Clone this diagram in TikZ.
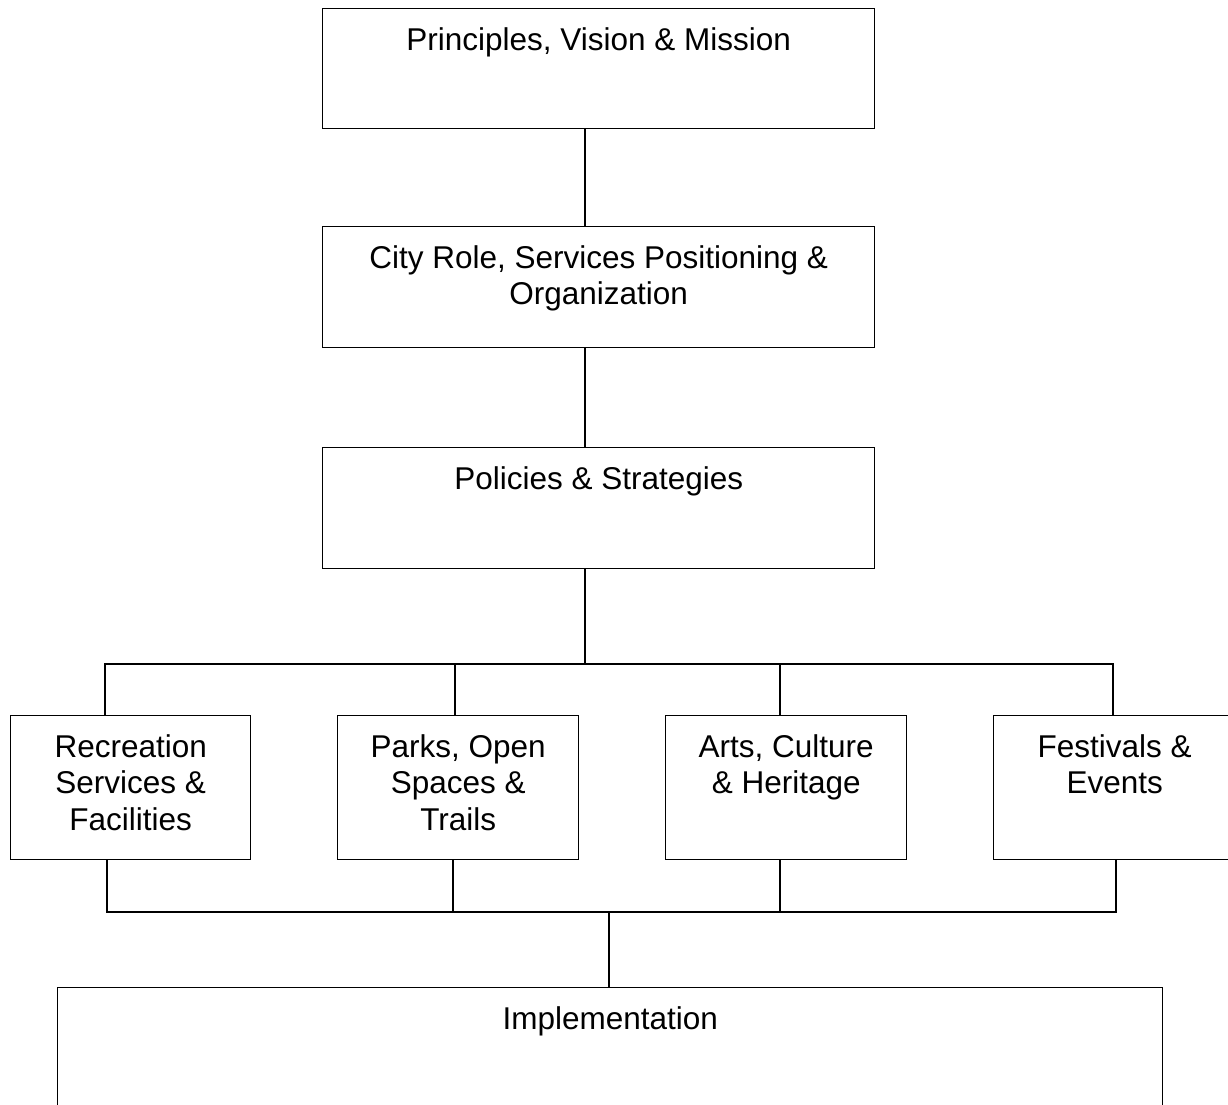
\documentclass[tikz,border=0pt]{standalone}
\usepackage{fontspec}
\setmainfont{Liberation Sans}
\usetikzlibrary{calc}
\begin{document}
\begin{tikzpicture}[x=1pt,y=-1pt,
  box/.style={draw, line width=1.4pt, inner sep=0pt, anchor=north west},
  lbl/.style={font=\fontsize{31.5}{36.5}\selectfont, align=center, inner sep=0pt, anchor=base},
  conn/.style={line width=1.3pt}]
\clip (0,0) rectangle (1228,1104);
% main column boxes
\node[box, minimum width=552pt, minimum height=120pt] (b1) at (322,8) {};
\node[box, minimum width=552pt, minimum height=121pt] (b2) at (322,226) {};
\node[box, minimum width=552pt, minimum height=121pt] (b3) at (322,447) {};
\node[lbl] (t1) at ($(b1.north)+(0,42)$) {Principles, Vision \& Mission};
\node[lbl] (t2) at ($(b2.north)+(0,78.5)$) {City Role, Services Positioning \&\\Organization};
\node[lbl] (t3) at ($(b3.north)+(0,42)$) {Policies \& Strategies};
% row boxes
\node[box, minimum width=240pt, minimum height=144pt] (ra) at (10,715) {};
\node[box, minimum width=241pt, minimum height=144pt] (rb) at (337,715) {};
\node[box, minimum width=241pt, minimum height=144pt] (rc) at (665,715) {};
\node[box, minimum width=242pt, minimum height=144pt] (rd) at (993,715) {};
\node[lbl] (ta1) at ($(ra.north)+(0,115)$) {Recreation\\Services \&\\Facilities};
\node[lbl] (tb1) at ($(rb.north)+(0,115)$) {Parks, Open\\Spaces \&\\Trails};
\node[lbl] (tc1) at ($(rc.north)+(0,78.5)$) {Arts, Culture\\\& Heritage};
\node[lbl] (td1) at ($(rd.north)+(0,78.5)$) {Festivals \&\\Events};
% implementation
\node[box, minimum width=1105pt, minimum height=140pt] (im) at (57,987) {};
\node[lbl] (tim) at ($(im.north)+(0,42)$) {Implementation};
% connectors
\coordinate (h1) at (585,664);
\draw[conn] (b1.south -| h1) -- (b2.north -| h1);
\draw[conn] (b2.south -| h1) -- (b3.north -| h1);
\draw[conn] (b3.south -| h1) -- (h1);
\coordinate (ua) at (105,664);
\coordinate (ub) at (455,664);
\coordinate (uc) at (780,664);
\coordinate (ud) at (1113,664);
\draw[conn] (ra.north -| ua) -- (ua) -- (ud) -- (rd.north -| ud);
\draw[conn] (ub) -- (rb.north -| ub);
\draw[conn] (uc) -- (rc.north -| uc);
\coordinate (la) at (107,912);
\coordinate (lb) at (453,912);
\coordinate (lc) at (780,912);
\coordinate (ld) at (1116,912);
\coordinate (lm) at (609,912);
\draw[conn] (ra.south -| la) -- (la) -- (ld) -- (rd.south -| ld);
\draw[conn] (rb.south -| lb) -- (lb);
\draw[conn] (rc.south -| lc) -- (lc);
\draw[conn] (lm) -- (im.north -| lm);
\end{tikzpicture}
\end{document}
